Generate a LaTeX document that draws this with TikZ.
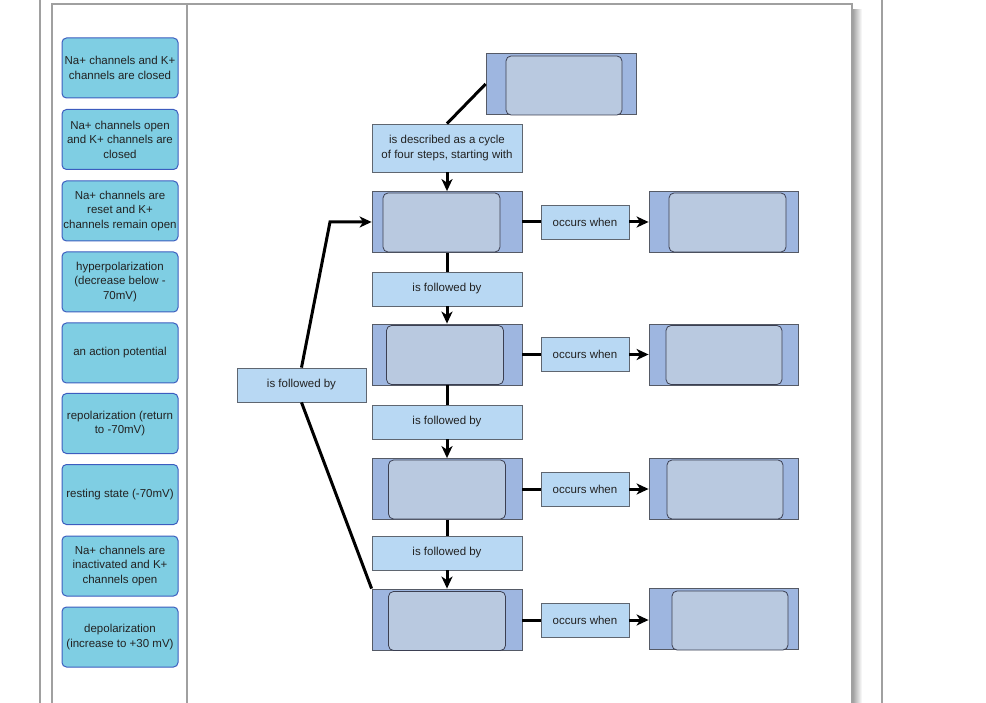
\documentclass[tikz,border=0pt]{standalone}
\usepackage{fontspec}
\newfontfamily\mapfamily{Liberation Sans}
\usetikzlibrary{arrows.meta}
\newcommand\mapfont{\mapfamily\fontsize{11.5}{14.5}\selectfont}
\definecolor{bankfill}{HTML}{7FCEE3}
\definecolor{bankedge}{HTML}{3C5DBF}
\definecolor{outerfill}{HTML}{9EB6E0}
\definecolor{outeredge}{HTML}{555A66}
\definecolor{innerfill}{HTML}{B9C9E0}
\definecolor{inneredge}{HTML}{3B3F52}
\definecolor{labelfill}{HTML}{B8D8F3}
\definecolor{labeledge}{HTML}{5F6670}
\definecolor{framegray}{HTML}{A0A0A0}
\definecolor{inktext}{HTML}{222222}
\tikzset{
  bankbox/.style={draw=bankedge, fill=bankfill, rounded corners=4.5pt, line width=1pt,
    minimum width=116pt, minimum height=60pt, inner sep=0pt,
    align=center, font=\mapfont, text=inktext},
  stepouter/.style={draw=outeredge, fill=outerfill, line width=0.8pt,
    minimum width=150pt, minimum height=61pt, inner sep=0pt},
  stepinner/.style={draw=inneredge, fill=innerfill, rounded corners=5pt, line width=0.8pt,
    minimum width=117pt, minimum height=59pt, inner sep=0pt},
  linklabel/.style={draw=labeledge, fill=labelfill, line width=0.8pt, inner sep=0pt,
    align=center, font=\mapfont, text=inktext},
  link/.style={line width=3pt},
  linkarrow/.style={link, -{Stealth[length=12pt,width=11pt,inset=3.5pt]}},
  frameline/.style={draw=framegray, line width=1.4pt}
}
\begin{document}
\begin{tikzpicture}[x=1pt,y=-1pt]
  \useasboundingbox (0,0) rectangle (986,703);
  % page frame
  \draw[frameline] (40,0) -- (40,703);
  \draw[frameline] (882,0) -- (882,703);
  \shade[left color=black!40, right color=white] (852,10) rectangle (862,703);
  \draw[frameline] (52,703) -- (52,4) -- (852,4) -- (852,703);
  \draw[frameline] (187,4) -- (187,703);

  % word bank
  \node[bankbox] (w1) at (120,68) {Na+ channels and K+\\channels are closed};
  \node[bankbox] (w2) at (120,139.5) {Na+ channels open\\and K+ channels are\\closed};
  \node[bankbox] (w3) at (120,211) {Na+ channels are\\reset and K+\\channels remain open};
  \node[bankbox] (w4) at (120,282) {hyperpolarization\\(decrease below -\\70mV)};
  \node[bankbox] (w5) at (120,353) {an action potential};
  \node[bankbox] (w6) at (120,423.5) {repolarization (return\\to -70mV)};
  \node[bankbox] (w7) at (120,494.5) {resting state (-70mV)};
  \node[bankbox] (w8) at (120,566) {Na+ channels are\\inactivated and K+\\channels open};
  \node[bankbox] (w9) at (120,637) {depolarization\\(increase to +30 mV)};

  % concept map
  \node[stepouter] (top) at (561,84) {};
  \node[stepinner, minimum width=116pt] (topin) at (564,85.5) {};
  \node[linklabel, minimum width=150pt, minimum height=48pt] (desc) at (447,148)
    {is described as a cycle\\of four steps, starting with};

  \node[stepouter] (s1) at (447,222) {};
  \node[stepinner] (s1in) at (441.5,222.5) {};
  \node[stepouter] (s2) at (447,354.5) {};
  \node[stepinner] (s2in) at (445,355) {};
  \node[stepouter] (s3) at (447,489) {};
  \node[stepinner] (s3in) at (447,489.5) {};
  \node[stepouter] (s4) at (447,619.5) {};
  \node[stepinner] (s4in) at (447,621) {};

  \node[linklabel, minimum width=150pt, minimum height=34pt] (f1) at (447,289) {is followed by};
  \node[linklabel, minimum width=150pt, minimum height=34pt] (f2) at (447,422) {is followed by};
  \node[linklabel, minimum width=150pt, minimum height=34pt] (f3) at (447,553) {is followed by};
  \node[linklabel, minimum width=129pt, minimum height=34pt] (back) at (301.5,385) {is followed by};

  \node[linklabel, minimum width=88pt, minimum height=34pt] (o1) at (585,222) {occurs when};
  \node[linklabel, minimum width=88pt, minimum height=34pt] (o2) at (585,354.5) {occurs when};
  \node[linklabel, minimum width=88pt, minimum height=34pt] (o3) at (585,489) {occurs when};
  \node[linklabel, minimum width=88pt, minimum height=34pt] (o4) at (585,620) {occurs when};

  \node[stepouter, minimum width=149pt] (r1) at (723.5,222) {};
  \node[stepinner] (r1in) at (727.5,222.5) {};
  \node[stepouter, minimum width=149pt] (r2) at (723.5,354.5) {};
  \node[stepinner, minimum width=116pt] (r2in) at (724,355) {};
  \node[stepouter, minimum width=149pt] (r3) at (723.5,489) {};
  \node[stepinner, minimum width=116pt] (r3in) at (725,489.5) {};
  \node[stepouter, minimum width=149pt] (r4) at (723.5,619) {};
  \node[stepinner, minimum width=116pt] (r4in) at (730,620.5) {};

  % connectors
  \draw[link] (top.west) -- (desc.north);
  \draw[linkarrow] (desc.south) -- (s1.north);
  \draw[link] (s1.south) -- (f1.north);
  \draw[linkarrow] (f1.south) -- (s2.north);
  \draw[link] (s2.south) -- (f2.north);
  \draw[linkarrow] (f2.south) -- (s3.north);
  \draw[link] (s3.south) -- (f3.north);
  \draw[linkarrow] (f3.south) -- (s4.north);

  \draw[link] (s1.east) -- (o1.west);
  \draw[linkarrow] (o1.east) -- (r1.west);
  \draw[link] (s2.east) -- (o2.west);
  \draw[linkarrow] (o2.east) -- (r2.west);
  \draw[link] (s3.east) -- (o3.west);
  \draw[linkarrow] (o3.east) -- (r3.west);
  \draw[link] (s4.east |- o4.west) -- (o4.west);
  \draw[linkarrow] (o4.east) -- (r4.west |- o4.east);

  \coordinate (bend) at (330,222);
  \draw[linkarrow] (back.north) -- (bend) -- (s1.west);
  \draw[link] (back.south) -- (s4.north west);
\end{tikzpicture}
\end{document}
